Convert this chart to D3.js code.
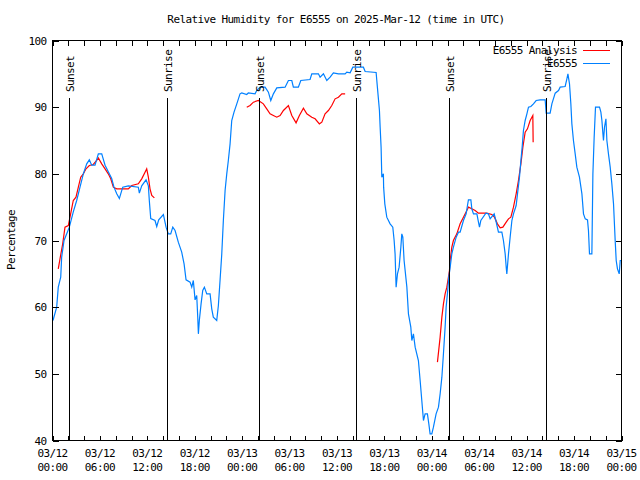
<!DOCTYPE html>
<html><head><meta charset="utf-8">
<script src="https://cdn.jsdelivr.net/npm/d3@7"></script>
<style>
body{margin:0;background:#fff}
text{font-family:"DejaVu Sans Mono","Liberation Mono",monospace;font-size:11px;letter-spacing:-0.6px;fill:#000}
</style>
</head><body><svg id="c" width="640" height="480"></svg>
<script>
// ---------- data ----------
const titleText = "Relative Humidity for E6555 on 2025-Mar-12 (time in UTC)";
const yLabelText = "Percentage";
const xTickHours = [0,6,12,18,24,30,36,42,48,54,60,66,72];
const xTickDates = ["03/12","03/12","03/12","03/12","03/13","03/13","03/13","03/13","03/14","03/14","03/14","03/14","03/15"];
const xTickTimes = ["00:00","06:00","12:00","18:00","00:00","06:00","12:00","18:00","00:00","06:00","12:00","18:00","00:00"];
const yTickValues = [40,50,60,70,80,90,100];
const eventLabels = ["Sunset","Sunrise","Sunset","Sunrise","Sunset","Sunrise"];
const eventHours = [2.15,14.45,26.17,38.42,50.18,62.40];
const seriesNames = ["E6555 Analysis","E6555"];
const seriesColors = ["#ff0000","#0080ff"];

// hours since 03/12 00:00 UTC, relative humidity %
const analysis = [
[0.73,65.75],[0.95,67.25],[1.29,69.5],[1.58,72],[2.00,72.25],[2.34,74.25],[2.63,76],[2.97,76.5],
[3.27,78],[3.57,79.5],[3.90,80],[4.24,80.75],[4.66,81.25],[5.16,81.4],[5.59,82],[5.80,82.4],
[6.23,81.5],[6.65,80.75],[7.06,80],[7.37,79.25],[7.70,78],[8.13,77.75],[9.59,77.75],[10.03,78.25],
[10.86,78.5],[11.29,79.25],[11.71,80.25],[11.92,80.75],[12.13,79.5],[12.34,77.75],[12.56,76.75],[12.89,76.4],
[18.0,null],
[24.58,90],[25.00,90.25],[25.42,90.75],[26.05,91],[26.68,90.5],[27.11,89.75],[27.53,89],[27.95,88.75],
[28.38,88.5],[28.80,88.75],[29.22,89.5],[29.85,90.25],[30.28,88.75],[30.82,87.65],[31.24,88.75],[31.75,89.85],
[32.18,89],[32.81,88.5],[33.23,88.25],[33.77,87.5],[34.08,87.75],[34.49,89],[34.91,89.5],[35.34,90.25],
[35.76,91.25],[36.18,91.5],[36.61,92],[37.03,92],
[42.0,null],
[48.71,51.75],[49.05,55.5],[49.27,58.5],[49.47,60.5],[49.68,62],[49.90,63],[50.10,64.5],[50.23,65.5],
[50.32,67],[50.53,69],[50.73,70],[51.16,71],[51.58,72.5],[52.00,73.5],[52.43,74.5],[52.63,75],
[53.06,74.75],[53.48,74.5],[53.90,74.1],[54.96,74.1],[55.59,73.9],[55.92,73.5],[56.30,72.5],[56.65,71.9],
[56.99,72],[57.41,72.75],[57.70,73.25],[58.00,73.5],[58.33,75],[58.67,77],[58.96,79],[59.27,81.5],
[59.52,84],[59.81,86.25],[60.10,86.75],[60.44,88],[60.66,88.5],[60.78,88.75],[60.82,84.75]
];

const observed = [
[0.06,58],[0.53,60],[0.73,63],[1.04,64.5],[1.16,67.5],[1.46,70],[1.80,71],[2.13,72],[2.63,74.3],
[3.06,76],[3.48,78],[3.90,80],[4.33,81.5],[4.66,82.1],[4.96,81.3],[5.38,81.3],[5.80,83],[6.23,83],
[6.65,81.3],[7.06,80.3],[7.49,79.3],[7.78,78],[8.13,77],[8.46,76.3],[8.89,78],[9.59,78.2],[10.86,78],
[10.99,77.1],[11.29,78.2],[11.84,79.1],[12.13,78.2],[12.25,76],[12.43,73.3],[12.97,73],[13.19,72.1],
[13.44,73.1],[14.03,73.9],[14.37,72],[14.66,71],[14.96,71],[15.22,72],[15.51,71.5],[15.92,69.75],
[16.35,68.25],[16.65,66.5],[16.90,64.1],[17.41,63.75],[17.62,63],[17.82,64],[18.04,61.1],[18.25,61.75],
[18.38,58.5],[18.46,56],[18.58,58],[18.80,60.5],[19.01,62.5],[19.22,63],[19.52,62],[19.94,62],
[20.15,59.75],[20.35,58.5],[20.78,58],[20.99,60.25],[21.20,64],[21.42,68],[21.62,73],[21.84,77.5],
[22.05,80],[22.25,82],[22.47,84.5],[22.68,88],[22.97,89.25],[23.32,90.5],[23.73,92],[23.95,92.15],
[24.58,91.9],[24.78,92.15],[25.63,92],[25.84,92.5],[26.27,93],[26.90,93],[27.32,92.25],[27.62,91],
[27.95,92],[28.38,92.9],[29.43,93],[29.85,94],[30.28,94],[30.48,93],[31.11,93],[31.42,94],
[32.59,94.15],[32.81,95],[33.65,95],[33.86,94.5],[34.28,95],[34.71,94],[35.13,94.5],[35.54,95.15],
[36.18,95],[37.03,95],[37.24,95.25],[37.66,95.15],[38.00,96],[39.34,96],[39.56,95.35],[40.95,95.2],
[41.11,93],[41.37,89.5],[41.46,87],[41.58,84],[41.67,79.5],[41.87,80],[41.90,78],[42.05,75.5],
[42.30,73.5],[42.72,72.5],[43.06,72],[43.23,70],[43.35,68],[43.48,63],[43.65,65],[43.86,66],
[44.08,69],[44.20,71],[44.33,70.5],[44.49,67],[44.84,63],[45.04,59],[45.34,57],[45.47,55],
[45.67,56],[45.89,54],[46.30,52],[46.52,49],[46.73,46],[46.94,43],[47.15,44],[47.44,44],
[47.62,42.5],[47.78,41],[48.00,41],[48.20,42],[48.54,44],[48.84,45],[49.05,47],[49.27,49.5],
[49.47,53],[49.68,57],[49.81,60],[49.97,62],[50.15,64.5],[50.32,66],[50.53,68],[50.73,69],
[51.08,70.5],[51.37,71.25],[51.58,71.25],[52.00,73],[52.34,74],[52.51,75.25],[52.63,76.1],[52.94,76.1],
[53.06,74.75],[53.27,74],[53.70,74],[53.90,72.75],[54.03,72],[54.20,73],[54.84,74.1],[55.16,74],
[55.38,73.25],[55.89,74],[56.10,73],[56.43,71.25],[56.86,71.25],[57.06,70],[57.28,68],[57.41,66],
[57.49,65],[57.70,68],[57.91,70.5],[58.13,73],[58.33,74],[58.67,75.25],[58.84,77],[59.09,79.5],
[59.27,82],[59.43,84],[59.59,86.5],[59.81,88],[60.03,89],[60.23,90],[60.53,90.1],[60.86,90.5],
[61.20,91],[61.71,91.1],[62.34,91.1],[62.47,89.1],[62.97,89.1],[63.19,90.5],[63.61,92.1],[64.03,92.5],
[64.24,93],[64.87,93.1],[65.09,94.25],[65.22,95],[65.42,93.5],[65.59,90.5],[65.72,87.5],[65.92,85],
[66.14,83],[66.35,81],[66.68,79.5],[66.99,77],[67.19,74],[67.41,73.25],[67.70,73.1],[67.82,71.5],
[67.95,68],[68.25,68],[68.38,80],[68.54,85.5],[68.71,90],[69.22,90],[69.39,89.25],[69.52,88],
[69.65,86],[69.72,85],[69.85,87],[70.03,88.25],[70.15,85],[70.35,83],[70.57,81],[70.78,78.5],
[70.99,75.5],[71.20,70],[71.33,67],[71.49,65.75],[71.71,65],[71.84,67],[71.96,67]
];

// ---------- layout ----------
const L = 52.5, R = 621.5, T = 40.5, B = 440.5;
const svg = d3.select("#c");
const x = d3.scaleLinear().domain([0,72]).range([L,R]);
const y = d3.scaleLinear().domain([40,100]).range([B,T]);

// title
svg.append("text").attr("x",336).attr("y",23).attr("text-anchor","middle").text(titleText);
// y label
svg.append("text").attr("transform","translate(15,240) rotate(-90)").attr("text-anchor","middle").text(yLabelText);

// series
const line = d3.line().defined(d=>d[1]!==null).x(d=>x(d[0])).y(d=>y(d[1]));
const g = svg.append("g");
g.append("path").datum(analysis).attr("d",line).attr("fill","none")
  .attr("stroke",seriesColors[0]).attr("stroke-width",1.2);
g.append("path").datum(observed).attr("d",line).attr("fill","none")
  .attr("stroke",seriesColors[1]).attr("stroke-width",1.2);

// sun events
eventHours.forEach((h,i)=>{
  const xx = Math.round(x(h))+0.5;
  svg.append("line").attr("x1",xx).attr("x2",xx).attr("y1",98).attr("y2",B)
    .attr("stroke","#000").attr("stroke-width",1).attr("shape-rendering","crispEdges");
  svg.append("text").attr("transform",`translate(${xx+4},92) rotate(-90)`).text(eventLabels[i]);
});

// axes
const minorHours = d3.range(0,73,2);
const xb = d3.axisBottom(x).tickValues(minorHours).tickSize(-5).tickFormat("");
const xt = d3.axisTop(x).tickValues(minorHours).tickSize(-5).tickFormat("");
const yl = d3.axisLeft(y).tickValues(yTickValues).tickSize(-6).tickPadding(6).tickFormat(d3.format("d"));
const yr = d3.axisRight(y).tickValues(yTickValues).tickSize(-6).tickFormat("");
function styleAxis(sel){
  sel.select(".domain").remove();
  sel.selectAll("line").attr("stroke","#000").attr("shape-rendering","crispEdges");
  sel.selectAll("text").attr("font-family",null).attr("font-size",null).attr("fill","#000");
}
svg.append("g").attr("transform",`translate(0,${B})`).call(xb).call(styleAxis);
svg.append("g").attr("transform",`translate(0,${T})`).call(xt).call(styleAxis);
svg.append("g").attr("transform",`translate(${L},0)`).call(yl).call(styleAxis);
svg.append("g").attr("transform",`translate(${R},0)`).call(yr).call(styleAxis);

// x tick labels (two lines)
const xl = svg.append("g");
xTickHours.forEach((h,i)=>{
  const t = xl.append("text").attr("text-anchor","middle");
  t.append("tspan").attr("x",x(h)).attr("y",457).text(xTickDates[i]);
  t.append("tspan").attr("x",x(h)).attr("y",471).text(xTickTimes[i]);
});

// frame
svg.append("rect").attr("x",L).attr("y",T).attr("width",R-L).attr("height",B-T)
  .attr("fill","none").attr("stroke","#000").attr("shape-rendering","crispEdges");

// legend
seriesNames.forEach((n,i)=>{
  const yy = 50 + i*13;
  svg.append("text").attr("x",577).attr("y",yy+4).attr("text-anchor","end").text(n);
  svg.append("line").attr("x1",583).attr("x2",610).attr("y1",yy+0.5).attr("y2",yy+0.5)
    .attr("stroke",seriesColors[i]).attr("stroke-width",1).attr("shape-rendering","crispEdges");
});
</script></body></html>
